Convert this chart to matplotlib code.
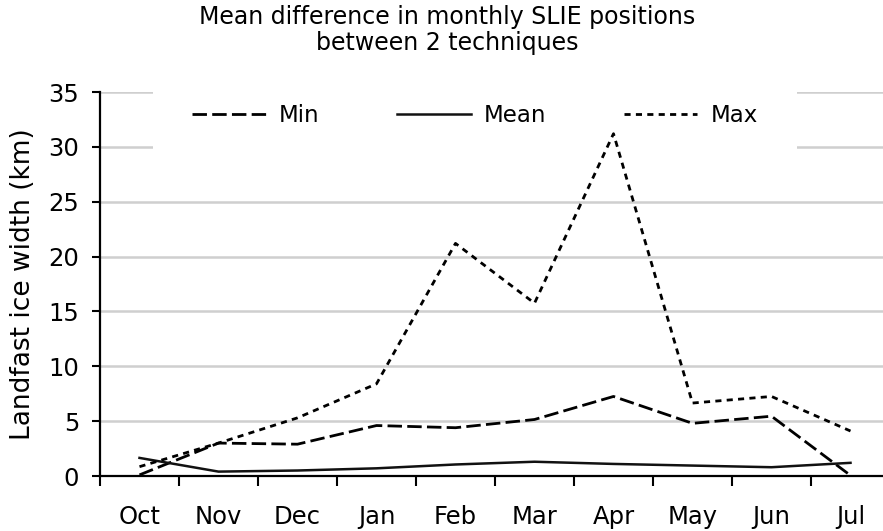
import matplotlib
matplotlib.use("Agg")
import matplotlib.pyplot as plt

months = ["Oct", "Nov", "Dec", "Jan", "Feb", "Mar", "Apr", "May", "Jun", "Jul"]
min_vals = [0.1, 3.0, 2.9, 4.6, 4.4, 5.15, 7.25, 4.8, 5.45, 0.05]
mean_vals = [1.65, 0.4, 0.5, 0.7, 1.05, 1.3, 1.1, 0.95, 0.8, 1.2]
max_vals = [0.85, 3.0, 5.3, 8.4, 21.2, 15.75, 31.2, 6.65, 7.25, 4.1]
y_ticks = [0, 5, 10, 15, 20, 25, 30, 35]

plt.rcParams['font.family'] = ['DejaVu Sans']

W, H = 883, 531
fig = plt.figure(figsize=(W / 100, H / 100), dpi=100)
fig.patch.set_facecolor('white')

left_px, right_px, top_px, bottom_px = 100, 890, 92, 476
ax = fig.add_axes([left_px / W, (H - bottom_px) / H,
                   (right_px - left_px) / W, (bottom_px - top_px) / H])

x = list(range(len(months)))
ax.plot(x, min_vals, color='black', lw=2.0, linestyle=(0, (5.2, 1.9)),
        label='Min', zorder=3, clip_on=False)
ax.plot(x, mean_vals, color='#111111', lw=1.8, linestyle='-',
        label='Mean', zorder=3, clip_on=False)
ax.plot(x, max_vals, color='black', lw=2.0, linestyle=(0, (2.2, 1.9)),
        label='Max', zorder=3, clip_on=False)

ax.set_xlim(-0.5, 9.5)
ax.set_ylim(0, 35)

ax.set_yticks(y_ticks)
ax.set_yticklabels([str(v) for v in y_ticks])
ax.set_xticks([i + 0.5 for i in range(-1, 9)])
ax.set_xticklabels([])
ax.set_xticks(x, minor=True)
ax.set_xticklabels(months, minor=True)

ax.tick_params(axis='y', which='major', direction='out', length=6, width=1.5,
               labelsize=17.5, pad=9)
ax.tick_params(axis='x', which='major', direction='out', length=7, width=1.5)
ax.tick_params(axis='x', which='minor', length=0, labelsize=17.5, pad=21)

for s in ['top', 'right']:
    ax.spines[s].set_visible(False)
for s in ['left', 'bottom']:
    ax.spines[s].set_linewidth(1.6)
    ax.spines[s].set_zorder(4)

ax.yaxis.grid(True, color='#cfcfcf', lw=1.8, zorder=1)
ax.set_axisbelow(True)

ax.set_ylabel('Landfast ice width (km)', fontsize=19, labelpad=9)

leg = ax.legend(loc='center', ncol=3, fontsize=16.5, frameon=True,
                facecolor='white', edgecolor='none', framealpha=1,
                handlelength=3.2, handletextpad=0.57, columnspacing=3.4,
                borderpad=1.7, fancybox=False,
                bbox_to_anchor=(475 / W, (H - 116) / H),
                bbox_transform=fig.transFigure)
leg.set_zorder(2)

fig.text(447 / W, (H - 17) / H, 'Mean difference in monthly SLIE positions',
         ha='center', va='center', fontsize=17)
fig.text(447 / W, (H - 43) / H, 'between 2 techniques',
         ha='center', va='center', fontsize=17)

fig.savefig('out.png', dpi=100, facecolor='white')
